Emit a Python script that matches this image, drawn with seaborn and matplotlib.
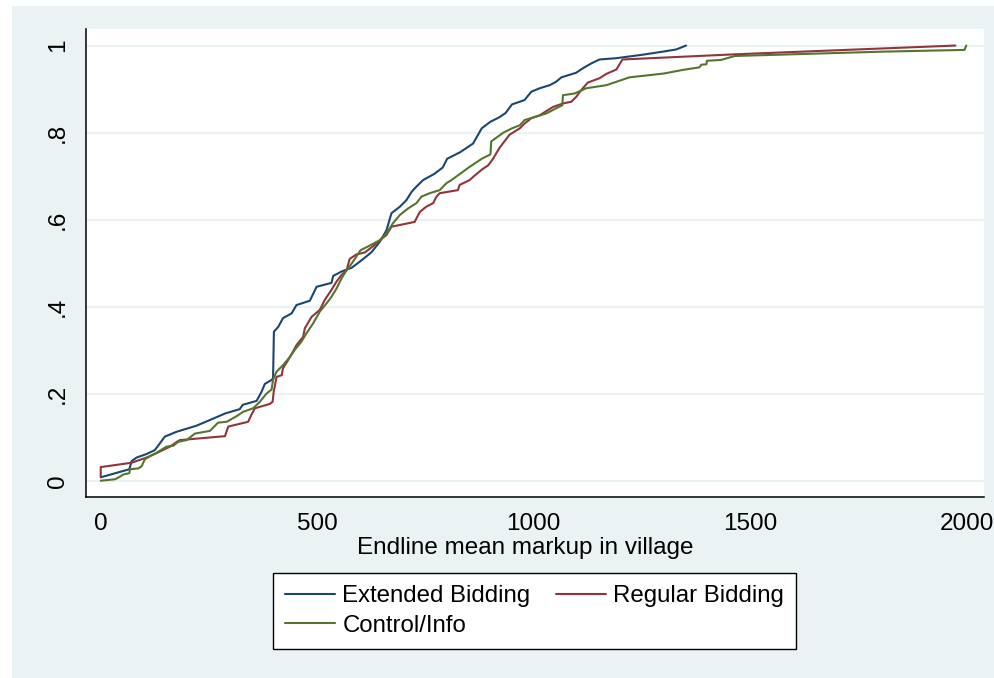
import matplotlib
matplotlib.use("Agg")
import matplotlib.pyplot as plt
import pandas as pd
import seaborn as sns
from matplotlib.patches import Rectangle

# traced cumulative distributions, one pair of arrays per treatment arm
ext_x = [0, 66, 71.5, 83, 106, 125, 137, 148, 175, 221, 252, 287, 321, 328, 360,
         371.5, 379, 394.5, 398, 400, 410, 421, 441, 452, 483, 498.5, 533, 537, 556, 580,
         600, 625, 645, 660, 671.5, 691, 706, 718, 729, 744.5, 770, 790, 800, 830, 860,
         880, 900, 920, 935, 950, 968, 979, 994.5, 1014, 1037, 1052, 1064, 1098, 1114, 1133,
         1152, 1191, 1252, 1298, 1329, 1352]
ext_y = [0.0085, 0.027, 0.046, 0.054, 0.062, 0.071, 0.087, 0.102, 0.113, 0.127, 0.14, 0.155, 0.165, 0.175, 0.184,
         0.205, 0.223, 0.232, 0.236, 0.343, 0.354, 0.374, 0.385, 0.404, 0.414, 0.446, 0.455, 0.471, 0.481, 0.49,
         0.505, 0.525, 0.55, 0.576, 0.615, 0.63, 0.645, 0.664, 0.676, 0.691, 0.705, 0.72, 0.74, 0.755, 0.775,
         0.81, 0.825, 0.835, 0.845, 0.865, 0.871, 0.875, 0.894, 0.902, 0.909, 0.917, 0.927, 0.9375, 0.948, 0.959,
         0.968, 0.971, 0.979, 0.986, 0.991, 1.0]

reg_x = [0, 0, 71.5, 106, 129, 160, 179, 183, 287, 294.5, 340.5, 348, 356, 390.5, 397,
         400, 402, 406, 418, 421, 433, 444, 452, 467.5, 471.5, 487, 506, 517.5, 533, 544.6,
         556, 567.7, 575, 590, 610, 630, 644.6, 660, 671.5, 725, 737, 752, 767.6, 775.5, 783,
         825, 829, 852, 862, 880, 895, 906, 921, 944, 968, 979, 994.5, 1014, 1044.5, 1067.6,
         1087, 1098, 1110, 1125, 1152, 1168, 1191, 1205, 1468, 1974]
reg_y = [0.01, 0.032, 0.042, 0.054, 0.064, 0.079, 0.092, 0.094, 0.103, 0.125, 0.136, 0.152, 0.167, 0.177, 0.182,
         0.209, 0.217, 0.239, 0.243, 0.259, 0.278, 0.297, 0.312, 0.331, 0.351, 0.377, 0.393, 0.416, 0.439, 0.458,
         0.473, 0.484, 0.51, 0.52, 0.525, 0.54, 0.553, 0.565, 0.584, 0.595, 0.618, 0.63, 0.638, 0.653, 0.661,
         0.668, 0.68, 0.691, 0.70, 0.715, 0.725, 0.74, 0.765, 0.795, 0.81, 0.821, 0.833, 0.84, 0.859, 0.867,
         0.871, 0.882, 0.898, 0.915, 0.925, 0.935, 0.945, 0.968, 0.98, 1.0]

ctl_x = [0, 33, 44.5, 52, 66, 67.6, 87, 94.6, 102, 114, 129, 152, 167.6, 179, 198.5,
         217.6, 252, 271, 291, 314, 329, 352, 367.6, 383, 394.5, 398, 406, 421, 437, 448,
         463.6, 475, 490.6, 506, 521.6, 533, 544.6, 556, 567.7, 580, 600, 620, 644.6, 660, 675,
         691, 710, 729, 740.8, 760, 783, 798.5, 810, 850, 880, 900, 902, 930, 950, 968,
         979, 1006, 1029, 1052, 1066, 1067.6, 1094.6, 1121.6, 1168, 1221, 1267, 1302, 1344, 1383, 1387,
         1399, 1400, 1433, 1464, 1806, 1995, 1999]
ctl_y = [0.0007, 0.004, 0.01, 0.015, 0.018, 0.027, 0.029, 0.034, 0.05, 0.057, 0.065, 0.079, 0.081, 0.09, 0.094,
         0.109, 0.115, 0.134, 0.136, 0.149, 0.159, 0.167, 0.182, 0.201, 0.21, 0.232, 0.251, 0.266, 0.285, 0.301,
         0.32, 0.339, 0.362, 0.389, 0.408, 0.423, 0.442, 0.465, 0.484, 0.50, 0.53, 0.54, 0.553, 0.569, 0.592,
         0.611, 0.626, 0.638, 0.653, 0.661, 0.668, 0.684, 0.691, 0.72, 0.74, 0.75, 0.78, 0.80, 0.81, 0.817,
         0.829, 0.837, 0.844, 0.856, 0.863, 0.886, 0.89, 0.902, 0.909, 0.927, 0.932, 0.936, 0.944, 0.95, 0.956,
         0.957, 0.965, 0.967, 0.976, 0.986, 0.99, 1.0]

groups = ["Extended Bidding", "Regular Bidding", "Control/Info"]
colors = ["#1A476F", "#90353B", "#55752F"]
xticks = [0, 500, 1000, 1500, 2000]
yticks = [0, 0.2, 0.4, 0.6, 0.8, 1.0]
ytick_labels = ["0", ".2", ".4", ".6", ".8", "1"]

BG = "#EAF2F3"
W, H = 994, 678


def build_frame():
    parts = []
    for name, xs, ys in zip(groups, [ext_x, reg_x, ctl_x], [ext_y, reg_y, ctl_y]):
        parts.append(pd.DataFrame({"markup": xs, "cdf": ys, "group": name}))
    return pd.concat(parts, ignore_index=True)


def main():
    df = build_frame()

    sns.set_style("white")
    plt.rcParams["font.family"] = ["Liberation Sans", "DejaVu Sans"]
    plt.rcParams["text.color"] = "black"
    plt.rcParams["axes.labelcolor"] = "black"
    plt.rcParams["xtick.color"] = "black"
    plt.rcParams["ytick.color"] = "black"

    fig = plt.figure(figsize=(W / 100, H / 100), dpi=100, facecolor="white")
    # light graph region behind the white plot region
    fig.patches.append(Rectangle((12 / W, 0), 1 - 12 / W, 1 - 6 / H, transform=fig.transFigure,
                                 facecolor=BG, edgecolor="none", zorder=-10))
    ax = fig.add_axes([86 / W, 1 - 497 / H, (984 - 86) / W, (497 - 29) / H])
    ax.set_facecolor("white")
    ax.set_zorder(1)

    sns.lineplot(data=df, x="markup", y="cdf", hue="group", hue_order=groups,
                 palette=dict(zip(groups, colors)), sort=False, estimator=None,
                 linewidth=1.5, ax=ax)

    ax.set_xlim(-34, 2040)
    ax.set_ylim(-0.0367, 1.038)
    ax.set_xticks(xticks)
    ax.set_xticklabels([str(t) for t in xticks])
    ax.set_yticks(yticks)
    ax.set_yticklabels(ytick_labels, rotation=90, va="center")

    ax.yaxis.grid(True, color=BG, linewidth=1.5)
    ax.xaxis.grid(False)
    ax.set_axisbelow(True)

    for side in ["top", "right"]:
        ax.spines[side].set_visible(False)
    for side in ["left", "bottom"]:
        ax.spines[side].set_color("black")
        ax.spines[side].set_linewidth(1.1)

    ax.tick_params(direction="out", length=6.5, width=1.1, color="black", labelsize=17.5)
    ax.tick_params(axis="x", pad=5)
    ax.tick_params(axis="y", pad=6)
    ax.set_xlabel("Endline mean markup in village", fontsize=17.5, labelpad=1.5)
    ax.xaxis.label.set_x(0.489)
    ax.set_ylabel("")

    handles, labels = ax.get_legend_handles_labels()
    ax.get_legend().remove()
    # column-wise fill: Extended / Control in col 1, Regular in col 2
    order = [0, 2, 1]
    leg = fig.legend([handles[i] for i in order], [labels[i] for i in order],
                     loc="center", bbox_to_anchor=(534.5 / W, 1 - 611 / H),
                     ncol=2, fontsize=17.3, frameon=True, fancybox=False, edgecolor="black",
                     framealpha=1, handlelength=2.1, handletextpad=0.3, columnspacing=1.05,
                     labelspacing=0.3, borderpad=0.5)
    leg.get_frame().set_linewidth(1.0)
    leg.get_frame().set_facecolor("white")

    fig.savefig("out.png", dpi=100, facecolor=fig.get_facecolor())
    plt.close(fig)


if __name__ == "__main__":
    main()
